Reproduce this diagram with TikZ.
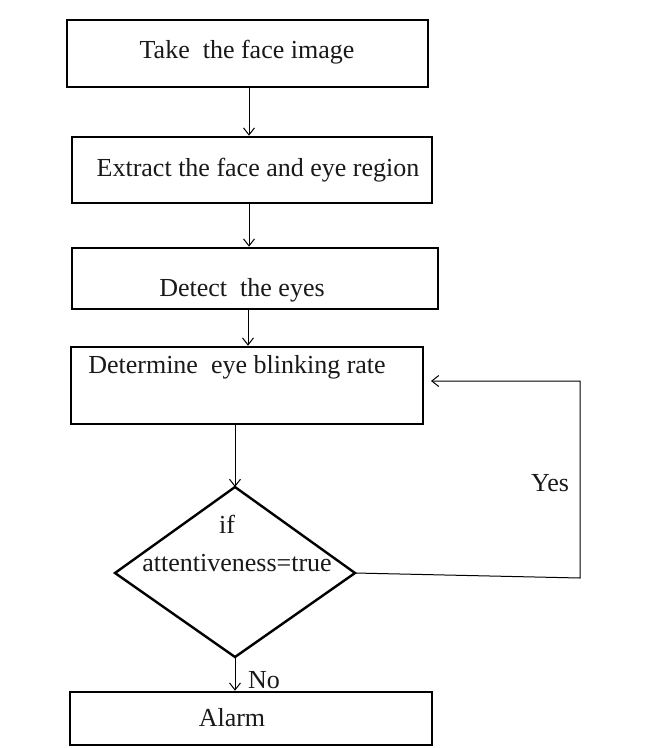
\documentclass[tikz,border=0pt]{standalone}
\usepackage{fontspec}
\setmainfont{Liberation Serif}
\usetikzlibrary{arrows.meta}
\begin{document}
\begin{tikzpicture}[x=1pt,y=-1pt,
  box/.style={draw, line width=2.6pt, inner sep=0pt},
  arr/.style={-{Straight Barb[length=7pt,width=11pt]}, line width=1pt},
  lbl/.style={font=\fontsize{26}{30}\selectfont, inner sep=0pt, text=black!90}]
\useasboundingbox[fill=white] (0,0) rectangle (653,748);
% boxes
\node[box, minimum width=361pt, minimum height=67pt] (b1) at (247.5,53.5) {};
\node[box, minimum width=360pt, minimum height=66pt] (b2) at (252,170) {};
\node[box, minimum width=366pt, minimum height=61pt] (b3) at (255,278.5) {};
\node[box, minimum width=352pt, minimum height=77pt] (b4) at (247,385.5) {};
\node[box, minimum width=362pt, minimum height=53pt] (b5) at (251,718.5) {};
% texts
\node[lbl] (t1) at (247,52) {Take~ the face image};
\node[lbl] (t2) at (258,170) {Extract the face and eye region};
\node[lbl] (t3) at (242,290) {Detect~ the eyes};
\node[lbl] (t4) at (237,367) {Determine~ eye blinking rate};
\node[lbl] (t5) at (232,718) {Alarm};
% decision
\coordinate (dt) at (235,487);
\coordinate (dr) at (355,573);
\coordinate (db) at (235,657);
\coordinate (dl) at (115,573);
\draw[line width=2.4pt, line join=miter] (dt) -- (dr) -- (db) -- (dl) -- cycle;
\node[lbl] (tif) at (227,524) {if};
\node[lbl] (tatt) at (237,563) {attentiveness=true};
% connectors
\coordinate (ax) at (249,0);
\coordinate (ax3) at (248,0);
\draw[arr] (b1.south -| ax) -- (b2.north -| ax);
\draw[arr] (b2.south -| ax) -- (b3.north -| ax);
\draw[arr] (b3.south -| ax3) -- (b4.north -| ax3);
\draw[arr] (b4.south -| dt) -- (dt);
\draw[arr] (db) -- (db |- b5.north);
\coordinate (c1) at (580,578);
\coordinate (c2) at (580,381);
\coordinate (ye) at (431,381);
\draw[arr] (dr) -- (c1) -- (c2) -- (ye);
\node[lbl] (yes) at (550,483) {Yes};
\node[lbl] (no) at (264,680) {No};
\end{tikzpicture}
\end{document}
